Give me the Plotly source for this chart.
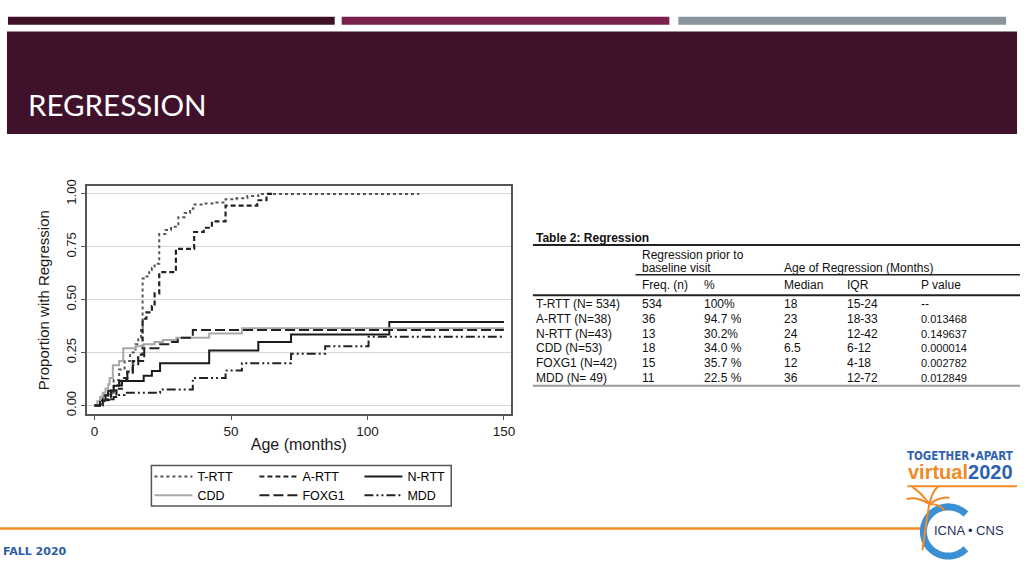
import math
import plotly.graph_objects as go

W, H = 1027, 562

# ---- cumulative proportion with regression, by group (step curves) ----
groups = ["T-RTT", "A-RTT", "N-RTT", "CDD", "FOXG1", "MDD"]

t_rtt_months = [0, 1, 3, 5, 7, 9, 11, 13, 15, 16, 17, 17.6, 19, 20, 21, 22, 23.7, 26, 28,
                30.7, 33, 35, 36.2, 40, 44, 48, 52, 56, 60, 119]
t_rtt_prop = [0, 0.005, 0.02, 0.06, 0.12, 0.17, 0.21, 0.25, 0.29, 0.32, 0.37, 0.60, 0.61,
              0.63, 0.65, 0.67, 0.81, 0.83, 0.845, 0.89, 0.91, 0.93, 0.95, 0.955, 0.96,
              0.975, 0.98, 0.99, 1.0, 1.0]

a_rtt_months = [0, 3, 6, 8, 10, 12, 14, 16, 17.6, 19, 21, 22, 23.7, 29.8, 36.5, 40, 43, 48,
                59.6, 63, 66]
a_rtt_prop = [0, 0.026, 0.053, 0.079, 0.13, 0.16, 0.21, 0.24, 0.41, 0.44, 0.47, 0.53, 0.63,
              0.74, 0.82, 0.84, 0.87, 0.945, 0.97, 1.0, 1.0]

n_rtt_months = [0, 2, 3, 5, 7, 9, 18, 21, 24, 42, 60, 72, 108, 150]
n_rtt_prop = [0, 0.023, 0.047, 0.07, 0.093, 0.116, 0.14, 0.163, 0.20, 0.26, 0.30, 0.335,
              0.395, 0.395]

cdd_months = [0, 1, 2, 3, 4, 5, 5.5, 6.7, 9, 10.5, 15, 18, 22, 25, 30, 42, 54, 150]
cdd_prop = [0, 0.02, 0.04, 0.06, 0.08, 0.10, 0.13, 0.19, 0.21, 0.27, 0.28, 0.29, 0.30, 0.31,
            0.32, 0.34, 0.365, 0.365]

foxg1_months = [0, 2, 4, 6, 8, 10, 12, 14, 16, 18.2, 24, 28, 30.5, 36, 150]
foxg1_prop = [0, 0.024, 0.048, 0.071, 0.095, 0.12, 0.155, 0.19, 0.21, 0.27, 0.29, 0.30,
              0.32, 0.357, 0.357]

mdd_months = [0, 2, 4, 7, 9, 11, 24, 36, 48, 54, 72, 84.5, 100.4, 150]
mdd_prop = [0, 0.02, 0.03, 0.04, 0.05, 0.06, 0.075, 0.13, 0.165, 0.20, 0.245, 0.28, 0.325,
            0.325]

x_ticks = [0, 50, 100, 150]
y_ticks = [0, 0.25, 0.5, 0.75, 1.0]
y_tick_labels = ["0.00", "0.25", "0.50", "0.75", "1.00"]

# ---- table 2 ----
table_title = "Table 2: Regression"
table_rows = ["T-RTT (N= 534)", "A-RTT (N=38)", "N-RTT (N=43)", "CDD (N=53)",
              "FOXG1 (N=42)", "MDD (N= 49)"]
freq_n = ["534", "36", "13", "18", "15", "11"]
pct = ["100%", "94.7 %", "30.2%", "34.0 %", "35.7 %", "22.5 %"]
median_age = ["18", "23", "24", "6.5", "12", "36"]
iqr = ["15-24", "18-33", "12-42", "6-12", "4-18", "12-72"]
p_value = ["--", "0.013468", "0.149637", "0.000014", "0.002782", "0.012849"]

# name, x, y, line style, legend row
series = [
    (groups[0], t_rtt_months, t_rtt_prop, dict(color="#555555", width=2, dash="dot"), "legend"),
    (groups[1], a_rtt_months, a_rtt_prop, dict(color="#222222", width=2.2, dash="5px,3px"), "legend"),
    (groups[2], n_rtt_months, n_rtt_prop, dict(color="#1a1a1a", width=2, dash="solid"), "legend"),
    (groups[3], cdd_months, cdd_prop, dict(color="#a8a8a8", width=2, dash="solid"), "legend2"),
    (groups[4], foxg1_months, foxg1_prop, dict(color="#222222", width=2, dash="10px,4px"), "legend2"),
    (groups[5], mdd_months, mdd_prop, dict(color="#222222", width=2,
                                           dash="9px,3px,2px,3px,2px,3px"), "legend2"),
]


def px(x):
    return x / W


def py(y):
    return 1 - y / H


fig = go.Figure()
for name, xs, ys, line, lg in series:
    fig.add_trace(go.Scatter(x=xs, y=ys, mode="lines", name=name, line=line,
                             line_shape="hv", legend=lg))

axis_font = dict(family="Liberation Sans, Arial", color="#1a1a1a")
legend_style = dict(
    orientation="h", xanchor="left", yanchor="middle",
    bgcolor="rgba(0,0,0,0)", borderwidth=0,
    font=dict(family="Liberation Sans, Arial", size=12.5, color="#000000"),
    entrywidth=52, itemwidth=38,
)

fig.update_layout(
    width=W, height=H,
    margin=dict(l=0, r=0, t=0, b=0),
    paper_bgcolor="white", plot_bgcolor="white",
    showlegend=True,
    legend=dict(x=px(150), y=py(477.5), **legend_style),
    legend2=dict(x=px(150), y=py(496.5), **legend_style),
    xaxis=dict(
        domain=[px(87), px(513)], range=[-2.9, 152.6],
        tickvals=x_ticks, ticks="outside", ticklen=4, tickcolor="#555555",
        tickfont=dict(size=13.5, **axis_font), showgrid=False, zeroline=False,
        showline=True, linecolor="#555555", linewidth=1.5, mirror=True,
        title=dict(text="Age (months)", font=dict(size=16, **axis_font), standoff=0),
    ),
    yaxis=dict(
        domain=[py(414), py(182)], range=[-0.042, 1.037],
        tickvals=y_ticks, ticktext=y_tick_labels, tickangle=-90,
        ticks="outside", ticklen=4, tickcolor="#555555",
        tickfont=dict(size=13, **axis_font),
        showgrid=True, gridcolor="#d6d6d6", gridwidth=1, zeroline=False,
        showline=True, linecolor="#555555", linewidth=1.5, mirror=True,
        title=dict(text="Proportion with Regression", font=dict(size=15, **axis_font),
                   standoff=10),
    ),
)

shapes = []
ann = []

# legend frame
shapes.append(dict(type="rect", xref="paper", yref="paper", x0=px(152), x1=px(453),
                   y0=py(507), y1=py(466), line=dict(color="#555555", width=1.5)))

# ---- slide header ----
for x0, x1, c in [(8, 336, "#3f1127"), (343, 672, "#7a2150"), (681, 1010, "#8a949c")]:
    shapes.append(dict(type="rect", xref="paper", yref="paper", x0=px(x0), x1=px(x1),
                       y0=py(18), y1=py(10), fillcolor=c, line_width=0, layer="below"))
shapes.append(dict(type="rect", xref="paper", yref="paper", x0=px(7), x1=px(1021),
                   y0=py(129), y1=py(25), fillcolor="#40112a", line_width=0, layer="below"))
ann.append(dict(text="REGRESSION", x=px(26), y=py(99), xref="paper", yref="paper",
                xanchor="left", yanchor="middle", showarrow=False,
                font=dict(family="Lato, Open Sans", size=29.5, color="white")))

# ---- table ----
tf = dict(family="Liberation Sans, Arial", size=12, color="#111111")
ann.append(dict(text="<b>" + table_title + "</b>", x=px(536), y=py(235), xref="paper",
                yref="paper", xanchor="left", yanchor="middle", showarrow=False, font=tf))
shapes.append(dict(type="line", xref="paper", yref="paper", x0=px(535), x1=px(1024),
                   y0=py(242), y1=py(242), line=dict(color="#222222", width=2)))
ann.append(dict(text="Regression prior to", x=px(643), y=py(252), xref="paper",
                yref="paper", xanchor="left", yanchor="middle", showarrow=False, font=tf))
ann.append(dict(text="baseline visit", x=px(643), y=py(265), xref="paper",
                yref="paper", xanchor="left", yanchor="middle", showarrow=False, font=tf))
ann.append(dict(text="Age of Regression (Months)", x=px(785), y=py(265), xref="paper",
                yref="paper", xanchor="left", yanchor="middle", showarrow=False, font=tf))
shapes.append(dict(type="line", xref="paper", yref="paper", x0=px(638), x1=px(1024),
                   y0=py(272), y1=py(272), line=dict(color="#222222", width=1.5)))
col_x = [536, 643, 705, 785, 848, 923]
heads = ["", "Freq. (n)", "%", "Median", "IQR", "P value"]
for cx, h in zip(col_x, heads):
    if h:
        ann.append(dict(text=h, x=px(cx), y=py(283), xref="paper", yref="paper",
                        xanchor="left", yanchor="middle", showarrow=False, font=tf))
shapes.append(dict(type="line", xref="paper", yref="paper", x0=px(535), x1=px(1024),
                   y0=py(293), y1=py(293), line=dict(color="#222222", width=2)))
row_y = [302, 317, 332, 347, 362, 377]
for i, ry in enumerate(row_y):
    cells = [table_rows[i], freq_n[i], pct[i], median_age[i], iqr[i], p_value[i]]
    for j, (cx, c) in enumerate(zip(col_x, cells)):
        f = dict(tf)
        if j == 5 and c != "--":
            f["size"] = 11
        ann.append(dict(text=c, x=px(cx), y=py(ry), xref="paper", yref="paper",
                        xanchor="left", yanchor="middle", showarrow=False, font=f))
shapes.append(dict(type="line", xref="paper", yref="paper", x0=px(535), x1=px(1024),
                   y0=py(385), y1=py(385), line=dict(color="#999999", width=2)))

# ---- footer ----
shapes.append(dict(type="line", xref="paper", yref="paper", x0=0, x1=px(925),
                   y0=py(530), y1=py(530), line=dict(color="#f28a26", width=2.5)))
ann.append(dict(text="<b>FALL 2020</b>", x=px(1), y=py(553), xref="paper", yref="paper",
                xanchor="left", yanchor="middle", showarrow=False,
                font=dict(family="DejaVu Sans", size=11, color="#2f5ca6")))

# ---- conference logo ----
ann.append(dict(text="<b>TOGETHER•APART</b>", x=px(1019), y=py(456), xref="paper",
                yref="paper", xanchor="right", yanchor="middle", showarrow=False,
                font=dict(family="DejaVu Sans Condensed, DejaVu Sans", size=11.5,
                          color="#2f62b0")))
ann.append(dict(text="<b><span style='color:#f28a26'>virtual</span>"
                     "<span style='color:#2f62b0'>2020</span></b>",
                x=px(1019), y=py(473), xref="paper", yref="paper", xanchor="right",
                yanchor="middle", showarrow=False,
                font=dict(family="Liberation Sans, Arial", size=20)))
shapes.append(dict(type="line", xref="paper", yref="paper", x0=px(911), x1=px(1021),
                   y0=py(487), y1=py(487), line=dict(color="#f28a26", width=2)))
# "C" ring
cx0, cy0, r = 952, 533, 25
pts = []
for k in range(0, 61):
    a = math.radians(45 + k * 270 / 60)
    pts.append((px(cx0 + r * math.cos(a)), py(cy0 - r * math.sin(a))))
path = "M " + " L ".join(f"{x:.5f},{y:.5f}" for x, y in pts)
shapes.append(dict(type="path", xref="paper", yref="paper", path=path,
                   line=dict(color="#3b8fd4", width=7)))
ann.append(dict(text="ICNA • CNS", x=px(973), y=py(532), xref="paper", yref="paper",
                xanchor="center", yanchor="middle", showarrow=False, bgcolor="white",
                font=dict(family="Liberation Sans, Arial", size=13, color="#1d2f5a")))
# palm tree
palm = [((926, 552), (929, 528), (933, 505)),
        ((933, 505), (920, 497), (910, 500)),
        ((933, 505), (923, 492), (916, 488)),
        ((933, 505), (936, 492), (942, 487)),
        ((933, 505), (946, 497), (953, 499)),
        ((933, 505), (944, 505), (948, 512))]
for (x0, y0), (x1, y1), (x2, y2) in palm:
    shapes.append(dict(type="path", xref="paper", yref="paper",
                       path=f"M {px(x0)},{py(y0)} Q {px(x1)},{py(y1)} {px(x2)},{py(y2)}",
                       line=dict(color="#f28a26", width=2)))

fig.update_layout(shapes=shapes, annotations=ann)
fig.write_html("out.html")
